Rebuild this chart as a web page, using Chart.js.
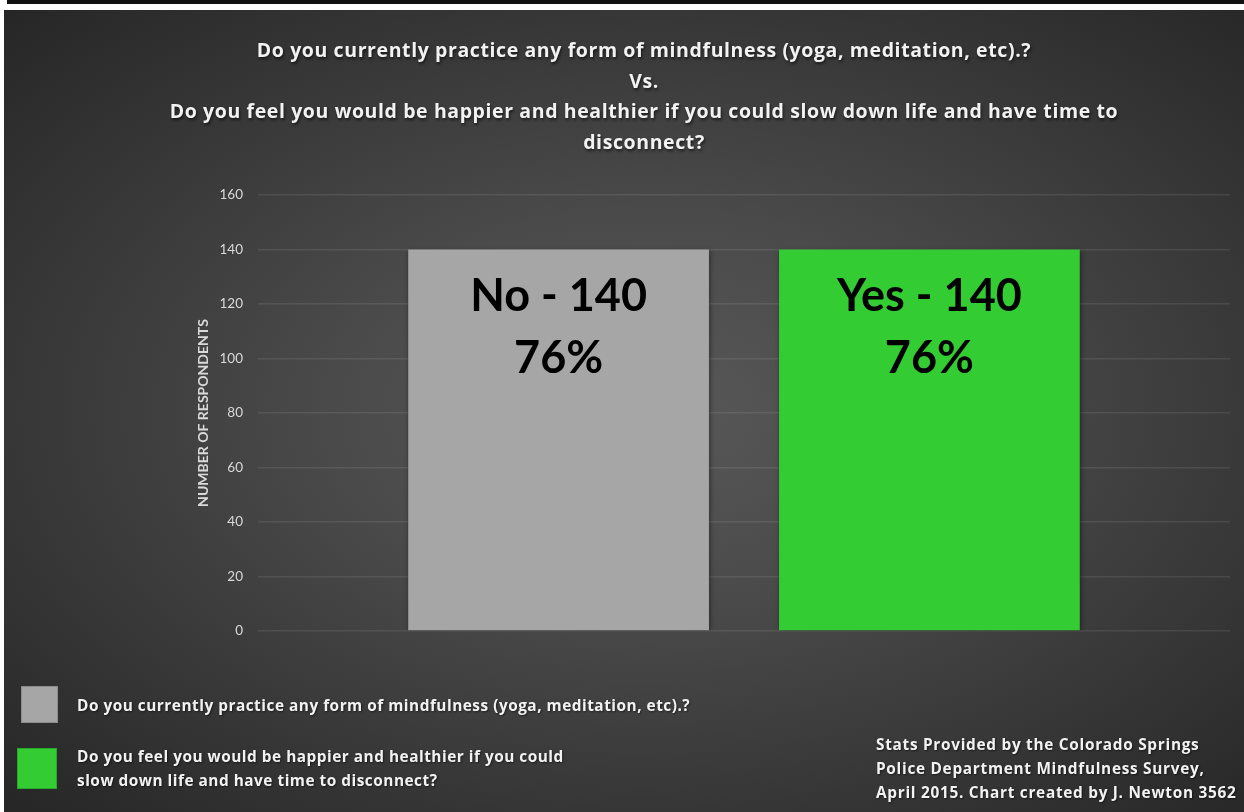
<!DOCTYPE html>
<html>
<head>
<meta charset="utf-8">
<title>Mindfulness Survey</title>
<script src="https://cdn.jsdelivr.net/npm/chart.js@4.4.1/dist/chart.umd.min.js"></script>
<style>
    html, body {
        margin: 0;
        padding: 0;
        background: #ffffff;
        width: 1244px;
        height: 812px;
        overflow: hidden;
        font-family: "Open Sans", "Lato", sans-serif;
    }
    .top-rule {
        position: absolute;
        left: 7px;
        top: 0;
        width: 1237px;
        height: 4px;
        background: #111111;
    }
    .panel {
        position: absolute;
        left: 4px;
        top: 10px;
        width: 1240px;
        height: 802px;
        background: radial-gradient(ellipse farthest-corner at 52% 50%, #585858 0%, #4a4a4a 35%, #262626 100%);
    }
    #surveyChart {
        position: absolute;
        left: 0;
        top: 0;
    }
    .chart-title {
        position: absolute;
        left: 140px;
        width: 1000px;
        top: 25px;
        text-align: center;
        color: #f2f2f2;
        font-weight: bold;
        font-size: 19.5px;
        letter-spacing: 0.6px;
        line-height: 30.5px;
        text-shadow: 1px 2px 3px rgba(0, 0, 0, 0.6);
    }
    .legend {
        position: absolute;
        left: 0;
        top: 0;
        color: #f2f2f2;
        font-weight: bold;
        font-size: 15.4px;
        letter-spacing: 0.5px;
        line-height: 24px;
    }
    .legend-box {
        position: absolute;
        box-sizing: border-box;
    }
    .legend-text {
        position: absolute;
        white-space: pre;
        text-shadow: 1px 1px 2px rgba(0, 0, 0, 0.5);
    }
    .source-note {
        position: absolute;
        left: 872px;
        top: 723px;
        color: #f2f2f2;
        font-weight: bold;
        font-size: 15.4px;
        letter-spacing: 0.7px;
        line-height: 24px;
        white-space: pre;
        text-shadow: 1px 1px 2px rgba(0, 0, 0, 0.5);
    }
</style>
</head>
<body>
<div class="top-rule"></div>
<div class="panel">
    <canvas id="surveyChart" width="1240" height="802"></canvas>
    <div class="chart-title" id="chartTitle"></div>
    <div class="legend" id="chartLegend"></div>
    <div class="source-note" id="sourceNote"></div>
</div>

<script>
// Survey data
const questions = [
    'Do you currently practice any form of mindfulness (yoga, meditation, etc).?',
    'Do you feel you would be happier and healthier if you could\nslow down life and have time to disconnect?'
];
const answers = ['No', 'Yes'];
const respondents = [140, 140];
const percents = [76, 76];
const barColors = ['#a6a6a6', '#33cc33'];
const legendBorders = ['#8c8c8c', '#2aa82a'];

// Axis setup
const yTicks = [0, 20, 40, 60, 80, 100, 120, 140, 160];
const yAxisTitle = 'NUMBER OF RESPONDENTS';

const titleLines = [
    'Do you currently practice any form of mindfulness (yoga, meditation, etc).?',
    'Vs.',
    'Do you feel you would be happier and healthier if you could slow down life and have time to',
    'disconnect?'
];
const sourceLines = [
    'Stats Provided by the Colorado Springs',
    'Police Department Mindfulness Survey,',
    'April 2015. Chart created by J. Newton 3562'
];

/**
 * Writes the answer and percentage inside each bar
 */
const barTextPlugin = {
    id: 'barText',
    afterDatasetsDraw(chart) {
        const ctx = chart.ctx;
        ctx.save();
        ctx.fillStyle = '#000000';
        ctx.textAlign = 'center';
        ctx.textBaseline = 'middle';
        ctx.font = 'bold 45px Lato, "Open Sans", sans-serif';
        chart.data.datasets.forEach((dataset, i) => {
            const bar = chart.getDatasetMeta(i).data[0];
            ctx.fillText(answers[i] + ' - ' + dataset.data[0], bar.x, bar.y + 47);
            ctx.fillText(percents[i] + '%', bar.x, bar.y + 109);
        });
        ctx.restore();
    }
};

/**
 * Soft drop shadow behind the bars
 */
const barShadowPlugin = {
    id: 'barShadow',
    beforeDatasetsDraw(chart) {
        const ctx = chart.ctx;
        ctx.save();
        ctx.shadowColor = 'rgba(0, 0, 0, 0.45)';
        ctx.shadowBlur = 5;
        ctx.shadowOffsetX = 1;
        ctx.shadowOffsetY = 1;
    },
    afterDatasetsDraw(chart) {
        chart.ctx.restore();
    }
};

const ctx = document.getElementById('surveyChart').getContext('2d');
const chart = new Chart(ctx, {
    type: 'bar',
    data: {
        labels: [''],
        datasets: questions.map((q, i) => ({
            label: q,
            data: [respondents[i]],
            backgroundColor: barColors[i],
            borderWidth: 0,
            categoryPercentage: 0.763,
            barPercentage: 0.811
        }))
    },
    options: {
        responsive: false,
        animation: false,
        layout: {
            padding: { left: 150, right: 14, top: 185, bottom: 181 }
        },
        plugins: {
            legend: { display: false },
            title: { display: false },
            tooltip: { enabled: false }
        },
        scales: {
            x: {
                display: false
            },
            y: {
                min: 0,
                max: 160,
                afterBuildTicks(scale) {
                    scale.ticks = yTicks.map(v => ({ value: v }));
                },
                afterFit(scale) {
                    scale.width = 104;
                },
                border: { display: false },
                grid: {
                    color: 'rgba(255, 255, 255, 0.09)',
                    lineWidth: 1.5,
                    drawTicks: false
                },
                ticks: {
                    color: '#d9d9d9',
                    padding: 15,
                    font: { family: 'Lato', size: 13.5 }
                },
                title: {
                    display: true,
                    text: yAxisTitle,
                    color: '#d9d9d9',
                    font: { family: 'Lato', size: 14, weight: 'bold' },
                    padding: { top: 41, bottom: 0 }
                }
            }
        }
    },
    plugins: [barShadowPlugin, barTextPlugin]
});

// Title text
document.getElementById('chartTitle').innerHTML =
    titleLines.map(line => '<div>' + line + '</div>').join('');

// Legend built from the chart datasets
const legendEl = document.getElementById('chartLegend');
const legendSlots = [
    { box: [17, 676, 37, 37], text: [73, 684] },
    { box: [13, 738, 40, 41], text: [73, 735] }
];
chart.data.datasets.forEach((ds, i) => {
    const slot = legendSlots[i];
    const box = document.createElement('div');
    box.className = 'legend-box';
    box.style.left = slot.box[0] + 'px';
    box.style.top = slot.box[1] + 'px';
    box.style.width = slot.box[2] + 'px';
    box.style.height = slot.box[3] + 'px';
    box.style.background = ds.backgroundColor;
    box.style.border = '1px solid ' + legendBorders[i];
    legendEl.appendChild(box);

    const text = document.createElement('div');
    text.className = 'legend-text';
    text.style.left = slot.text[0] + 'px';
    text.style.top = slot.text[1] + 'px';
    text.textContent = ds.label;
    legendEl.appendChild(text);
});

// Source note
document.getElementById('sourceNote').textContent = sourceLines.join('\n');
</script>
</body>
</html>
